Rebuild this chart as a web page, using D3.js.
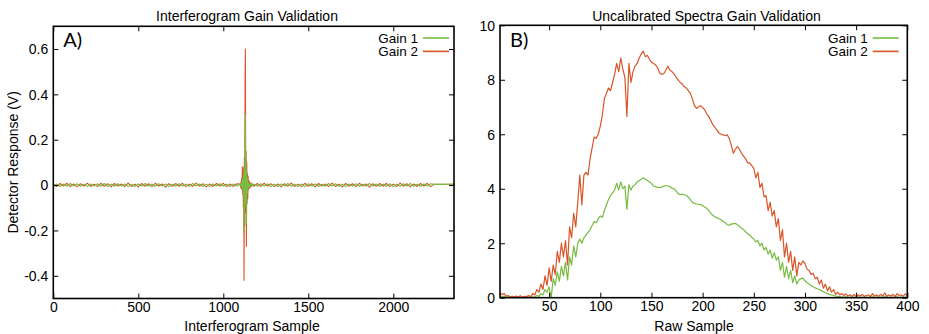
<!DOCTYPE html>
<html><head><meta charset="utf-8">
<script src="https://cdn.jsdelivr.net/npm/d3@7"></script>
<style>
body{margin:0;background:#fff;}
text{font-family:"Liberation Sans",Arial,sans-serif;fill:#000;}
</style></head>
<body><svg id="c" width="929" height="334"></svg>
<script>
// ---------- Panel A: interferogram ----------
const ifgBaseStep = 20;
const ifgLeftStart = 0;
const ifgGain2Left = [0.004,-0.006,0.007,-0.004,0.008,-0.007,0.005,-0.008,0.006,-0.005,0.009,-0.006,0.004,-0.007,0.008,-0.005,0.006,-0.008,0.007,-0.004,0.005,-0.007,0.009,-0.006,0.004,-0.008,0.007,-0.005,0.006,-0.007,0.008,-0.004,0.005,-0.009,0.006,-0.006,0.007,-0.005,0.008,-0.007,0.004,-0.006,0.009,-0.005,0.006,-0.008,0.005,-0.006,0.007,-0.004,0.008,-0.007,0.005,-0.006,0.006];
const ifgGain1Left = [-0.003,0.005,-0.006,0.004,-0.005,0.007,-0.004,0.006,-0.005,0.004,-0.007,0.005,-0.004,0.006,-0.005,0.007,-0.006,0.004,-0.005,0.006,-0.004,0.005,-0.007,0.004,-0.006,0.005,-0.004,0.007,-0.005,0.004,-0.006,0.006,-0.004,0.005,-0.007,0.004,-0.005,0.006,-0.004,0.005,-0.006,0.007,-0.004,0.005,-0.006,0.004,-0.007,0.005,-0.004,0.006,-0.005,0.004,-0.006,0.005,-0.004];
const ifgBurstStart = 1100, ifgBurstStep = 2;
const ifgGain2Burst = [0.005,-0.01,0.015,-0.015,0.03,-0.02,0.08,-0.04,0.05,-0.1,0.08,-0.42,0.12,-0.18,0.45,0.6,-0.12,0.15,-0.27,0.1,-0.08,0.05,-0.06,0.04,-0.02,0.02,-0.015,0.015,-0.01,0.01,-0.008,0.008,-0.005,0.006,-0.005,0.005];
const ifgGain1Burst = [0.004,-0.005,0.006,-0.006,0.01,-0.01,0.02,-0.02,0.03,-0.04,0.05,-0.21,0.08,-0.1,0.25,0.31,-0.08,0.1,-0.17,0.06,-0.04,0.03,-0.02,0.015,-0.01,0.008,-0.006,0.006,-0.005,0.005,-0.004,0.004,-0.004,0.003,-0.003,0.003];
const ifgRightStart = 1180;
const ifgGain2Right = [-0.005,0.007,-0.006,0.008,-0.004,0.006,-0.007,0.005,-0.008,0.006,-0.005,0.009,-0.006,0.004,-0.007,0.008,-0.005,0.006,-0.008,0.007,-0.004,0.005,-0.007,0.009,-0.006,0.004,-0.008,0.007,-0.005,0.006,-0.007,0.008,-0.004,0.005,-0.009,0.006,-0.006,0.007,-0.005,0.008,-0.007,0.004,-0.006,0.009,-0.005,0.006,-0.008,0.005,-0.006,0.007,-0.004,0.008,-0.007,0.004,0.003,0.003,0.004,0.004,0.004,0.005];
const ifgGain1Right = [0.004,-0.005,0.006,-0.004,0.005,-0.007,0.004,-0.006,0.005,-0.004,0.007,-0.005,0.004,-0.006,0.005,-0.007,0.006,-0.004,0.005,-0.006,0.004,-0.005,0.007,-0.004,0.006,-0.005,0.004,-0.007,0.005,-0.004,0.006,-0.006,0.004,-0.005,0.007,-0.004,0.005,-0.006,0.004,-0.005,0.006,-0.007,0.004,-0.005,0.006,-0.004,0.007,-0.005,0.004,-0.006,0.005,-0.004,0.006,0.003,0.003,0.003,0.004,0.004,0.004,0.005];
const ifgXTicks = [0,500,1000,1500,2000];
const ifgYTicks = [-0.4,-0.2,0,0.2,0.4,0.6];
const ifgYTickLabels = ["-0.4","-0.2","0","0.2","0.4","0.6"];

// ---------- Panel B: spectra ----------
const specStart = 2, specStep = 2;
const specGain2 = [0.18,0.12,0.15,0.06,0.08,0.03,0.05,0.02,0.06,0.03,0.07,0.02,0.05,0.04,0.08,0.03,0.15,0.1,0.3,0.2,
0.5,0.3,0.8,0.45,1.1,0.6,1.2,0.85,1.7,1.3,2.0,1.5,2.1,1.2,2.6,2.2,3.1,2.6,3.5,4.5,
3.4,4.5,4.6,4.5,5.1,5.5,5.9,5.85,6.0,6.3,6.7,7.3,7.5,7.7,7.6,7.9,8.2,8.6,8.3,8.8,
8.4,8.1,6.65,8.6,7.9,8.3,8.5,8.6,8.8,8.95,9.05,8.85,8.9,8.75,8.65,8.6,8.55,8.45,8.25,8.2,
8.22,8.35,8.5,8.35,8.3,8.22,8.1,8.0,7.9,7.85,7.75,7.7,7.6,7.5,7.3,7.05,6.95,7.0,7.05,6.98,
6.9,6.75,6.65,6.5,6.35,6.25,6.15,6.05,6.0,5.98,5.95,5.98,5.85,5.6,5.3,5.45,5.55,5.45,5.3,5.2,
5.1,4.95,4.95,4.85,4.75,4.4,4.6,4.05,4.2,3.7,3.75,3.2,3.5,3.0,3.2,2.6,2.9,2.1,2.5,1.5,
2.0,1.3,1.7,1.0,1.5,0.8,1.3,1.2,1.35,1.25,1.05,1.0,0.85,0.9,0.7,0.75,0.5,0.65,0.35,0.5,
0.25,0.4,0.2,0.3,0.12,0.2,0.1,0.15,0.08,0.14,0.06,0.1,0.05,0.12,0.04,0.1,0.06,0.12,0.05,0.08,
0.1,0.04,0.15,0.06,0.1,0.05,0.12,0.06,0.18,0.05,0.1,0.06,0.12,0.04,0.15,0.08,0.1,0.05,0.14,0.08];
const specGain1 = [0.06,0.04,0.05,0.02,0.03,0.01,0.02,0.01,0.02,0.01,0.02,0.01,0.02,0.01,0.02,0.01,0.03,0.02,0.08,0.05,
0.15,0.1,0.3,0.2,0.4,0.0,0.7,0.45,0.95,0.6,1.15,0.8,1.3,0.65,1.5,1.2,1.9,1.5,2.0,2.15,
2.0,2.2,2.3,2.4,2.5,2.65,2.8,2.75,2.9,3.0,2.95,3.2,3.4,3.6,3.75,3.85,3.95,4.2,3.95,4.25,
4.0,4.1,3.25,4.15,3.95,4.1,4.15,4.25,4.3,4.35,4.4,4.35,4.3,4.25,4.2,4.1,4.08,4.05,4.04,4.06,
4.1,4.12,4.1,4.08,4.02,4.0,3.92,3.82,3.78,3.8,3.78,3.75,3.7,3.6,3.5,3.46,3.44,3.43,3.42,3.38,
3.33,3.28,3.2,3.1,3.02,2.97,2.93,2.9,2.86,2.8,2.76,2.68,2.66,2.7,2.72,2.73,2.68,2.62,2.55,2.5,
2.42,2.35,2.3,2.22,2.15,2.05,2.1,1.9,2.0,1.75,1.85,1.6,1.75,1.45,1.65,1.38,1.5,1.0,1.3,0.75,
1.15,0.7,1.0,0.55,0.8,0.5,0.65,0.7,0.72,0.62,0.55,0.5,0.45,0.4,0.36,0.33,0.3,0.26,0.22,0.18,
0.15,0.12,0.1,0.08,0.06,0.05,0.04,0.03,0.02,0.03,0.02,0.01,0.02,0.01,0.03,0.02,0.01,0.02,0.01,0.02,
0.01,0.02,0.03,0.01,0.02,0.01,0.02,0.01,0.03,0.02,0.01,0.02,0.01,0.02,0.03,0.01,0.02,0.01,0.02,0.02];
const specXTicks = [50,100,150,200,250,300,350,400];
const specYTicks = [0,2,4,6,8,10];
const seriesNames = ["Gain 1","Gain 2"];
const seriesColors = ["#77bb41","#d95528"];

// ---------- drawing ----------
const svg = d3.select("#c");

function pts(start, step, vals){ return vals.map((v,i)=>[start+i*step, v]); }

function panel(o){
  const g = svg.append("g");
  const x = d3.scaleLinear().domain(o.xDomain).range([o.left,o.right]);
  const y = d3.scaleLinear().domain(o.yDomain).range([o.bottom,o.top]);
  const line = d3.line().x(d=>x(d[0])).y(d=>y(d[1]));
  o.series.forEach(s=>{
    g.append("path").attr("d", line(s.data)).attr("fill","none")
      .attr("stroke", s.color).attr("stroke-width", o.lw).attr("stroke-linejoin","round");
  });
  const xb = d3.axisBottom(x).tickValues(o.xTicks).tickSizeInner(-5).tickSizeOuter(0).tickFormat(d3.format("d"));
  const xt = d3.axisTop(x).tickValues(o.xTicks).tickSizeInner(-5).tickSizeOuter(0).tickFormat("");
  const yl = d3.axisLeft(y).tickValues(o.yTicks).tickSizeInner(-5).tickSizeOuter(0).tickFormat((d,i)=>o.yLabels[i]);
  const yr = d3.axisRight(y).tickValues(o.yTicks).tickSizeInner(-5).tickSizeOuter(0).tickFormat("");
  const ax = [
    g.append("g").attr("transform",`translate(0,${o.bottom})`).call(xb),
    g.append("g").attr("transform",`translate(0,${o.top})`).call(xt),
    g.append("g").attr("transform",`translate(${o.left},0)`).call(yl),
    g.append("g").attr("transform",`translate(${o.right},0)`).call(yr)
  ];
  ax.forEach(a=>{
    a.select(".domain").remove();
    a.selectAll(".tick line").attr("stroke","#000").attr("stroke-width",1);
    a.selectAll("text").attr("font-size",14).attr("font-family","Liberation Sans, Arial, sans-serif").attr("fill","#000");
  });
  ax[0].selectAll("text").attr("dy",null).attr("y",13);
  ax[2].selectAll("text").attr("x",-5).attr("dy","0.35em");
  g.append("rect").attr("x",o.left).attr("y",o.top).attr("width",o.right-o.left).attr("height",o.bottom-o.top)
    .attr("fill","none").attr("stroke","#000").attr("stroke-width",1.6);
  g.append("text").attr("x",o.titleX).attr("y",20.5).attr("text-anchor","middle").attr("font-size",14).text(o.title);
  g.append("text").attr("x",o.xlabX).attr("y",330.5).attr("text-anchor","middle").attr("font-size",14).text(o.xlab);
  if(o.ylab){
    g.append("text").attr("transform",`translate(18,${(o.top+o.bottom)/2}) rotate(-90)`)
      .attr("text-anchor","middle").attr("font-size",14).text(o.ylab);
  }
  g.append("text").attr("x",o.left+10).attr("y",46.5).attr("font-size",20)
    .style("font-family","Lato, 'Open Sans', sans-serif").text(o.tag);
  seriesNames.forEach((n,i)=>{
    const ly = 38 + i*13.4;
    g.append("text").attr("x",o.legX).attr("y",ly+4.5).attr("text-anchor","end").attr("font-size",13.5).text(n);
    g.append("line").attr("x1",o.legX+5).attr("x2",o.legX+31).attr("y1",ly).attr("y2",ly)
      .attr("stroke",seriesColors[i]).attr("stroke-width",1.6);
  });
}

panel({
  left:53.3,right:454,top:26.3,bottom:298.5,
  xDomain:[0,2357],yDomain:[-0.5,0.7],
  xTicks:ifgXTicks,yTicks:ifgYTicks,yLabels:ifgYTickLabels,
  lw:1.1,
  series:[
    {color:seriesColors[1],data:[...pts(ifgLeftStart,ifgBaseStep,ifgGain2Left),...pts(ifgBurstStart,ifgBurstStep,ifgGain2Burst),...pts(ifgRightStart,ifgBaseStep,ifgGain2Right)]},
    {color:seriesColors[0],data:[...pts(ifgLeftStart,ifgBaseStep,ifgGain1Left),...pts(ifgBurstStart,ifgBurstStep,ifgGain1Burst),...pts(ifgRightStart,ifgBaseStep,ifgGain1Right)]}
  ],
  title:"Interferogram Gain Validation",titleX:247,
  xlab:"Interferogram Sample",xlabX:252,
  ylab:"Detector Response (V)",tag:"A)",legX:418
});

panel({
  left:500,right:907.3,top:25.3,bottom:297.7,
  xDomain:[2,400],yDomain:[0,10],
  xTicks:specXTicks,yTicks:specYTicks,yLabels:specYTicks.map(String),
  lw:1.2,
  series:[
    {color:seriesColors[0],data:pts(specStart,specStep,specGain1)},
    {color:seriesColors[1],data:pts(specStart,specStep,specGain2)}
  ],
  title:"Uncalibrated Spectra Gain Validation",titleX:706.5,
  xlab:"Raw Sample",xlabX:694,
  ylab:null,tag:"B)",legX:867.7
});
</script></body></html>
